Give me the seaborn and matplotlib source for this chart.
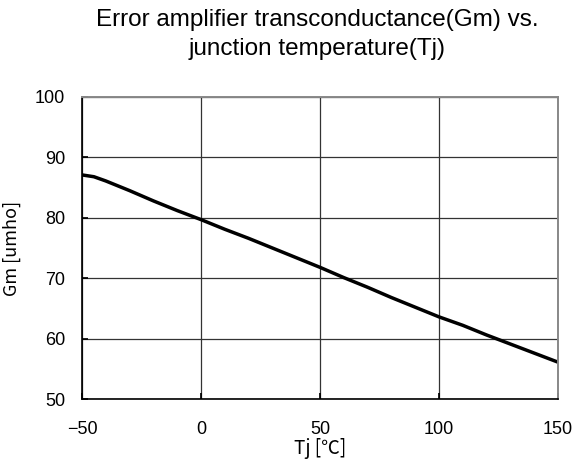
import pandas as pd
import seaborn as sns
import matplotlib.pyplot as plt

# junction temperature [degC] and transconductance [umho]
tj = [-50, -45, -40, -30, -20, -10, 0, 10, 20, 30, 40, 50,
      60, 70, 80, 90, 100, 110, 120, 130, 140, 150]
gm = [87.1, 86.8, 86.1, 84.5, 82.8, 81.2, 79.7, 78.1, 76.6, 75.0, 73.4, 71.8,
      70.1, 68.5, 66.8, 65.2, 63.6, 62.2, 60.6, 59.1, 57.6, 56.1]

x_ticks = [-50, 0, 50, 100, 150]
y_ticks = [50, 60, 70, 80, 90, 100]

df = pd.DataFrame({'Tj': tj, 'Gm': gm})

sns.set_theme(style="white")
plt.rcParams['font.family'] = ['Liberation Sans', 'DejaVu Sans']
plt.rcParams['text.color'] = 'black'
plt.rcParams['axes.labelcolor'] = 'black'

fig = plt.figure(figsize=(5.73, 4.63), dpi=100)
ax = fig.add_axes([0.1431, 0.1382, 0.8307, 0.6523])

sns.lineplot(data=df, x='Tj', y='Gm', ax=ax, color='black', linewidth=2.5)

ax.set_xlim(-50, 150)
ax.set_ylim(50, 100)
ax.set_xticks(x_ticks)
ax.set_yticks(y_ticks)
ax.set_xticklabels(['\u221250', '0', '50', '100', '150'])
ax.tick_params(direction='in', length=4, labelsize=13, colors='black',
               left=True, bottom=True)
ax.tick_params(axis='x', pad=16)
ax.tick_params(axis='y', pad=12)
ax.grid(True, color='#333333', linewidth=0.9)

for side in ['left', 'bottom']:
    ax.spines[side].set_color('black')
    ax.spines[side].set_linewidth(1.2)
for side in ['top', 'right']:
    ax.spines[side].set_color('#888888')
    ax.spines[side].set_linewidth(1.4)

cjk = ['Noto Sans CJK JP', 'DejaVu Sans']
ax.set_xlabel('Tj [\u2103]', fontsize=13.5, family=cjk, labelpad=0)
ax.set_ylabel('Gm [umho]', fontsize=13, family=cjk, labelpad=10)

fig.text(0.553, 0.926, 'Error amplifier transconductance(Gm) vs.\njunction temperature(Tj)',
         ha='center', va='center', fontsize=17.5, linespacing=1.4)

fig.savefig('out.png', dpi=100)
